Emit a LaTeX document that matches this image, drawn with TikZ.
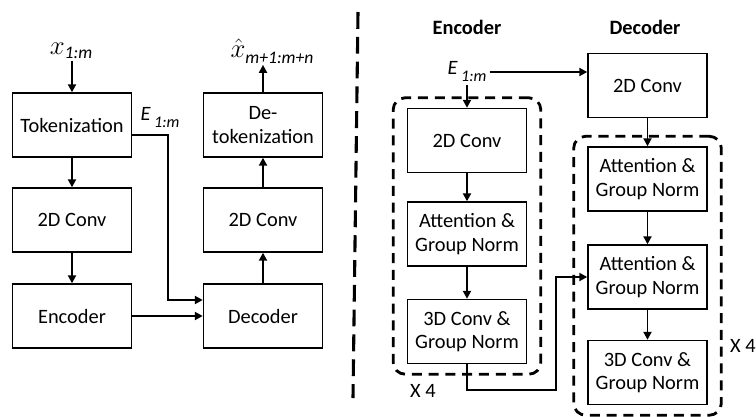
\RequirePackage{fix-cm}
\documentclass[tikz,border=0pt]{standalone}
\usepackage{fontspec}
\setmainfont{Carlito}
\usetikzlibrary{arrows.meta,calc,fit}
\newcommand{\isub}[3]{\raisebox{-#2}{\fontsize{#1}{#1}\selectfont\itshape #3}}
\tikzset{
    block/.style={rectangle, draw, line width=1pt, minimum width=2.975cm, minimum height=1.6cm, align=center, inner sep=1pt, font=\fontsize{14.5}{16.5}\selectfont},
    arr/.style={-{Triangle[length=2mm,width=2mm]}, line width=1.4pt},
    grp/.style={draw, line width=2pt, dash pattern=on 0.25cm off 0.17cm, rounded corners=0.3cm, inner xsep=0.34cm, inner ysep=0.25cm},
    lbl/.style={font=\fontsize{14.5}{16.5}\selectfont, inner sep=2pt}
}

\begin{document}
\begin{tikzpicture}[x=0.025cm, y=-0.025cm]
    \useasboundingbox (0,0) rectangle (756,416);

    % overall pipeline
    \node[block] (tok) at (72,125) {Tokenization};
    \node[block] (conv) at (72,220) {2D Conv};
    \node[block] (enc) at (72,316) {Encoder};
    \node[block] (dec) at (263,316) {Decoder};
    \node[block] (deconv) at (263,220) {2D Conv};
    \node[block] (detok) at (263,125) {De-\\tokenization};

    \node[font=\fontsize{19}{20}\selectfont, inner sep=1pt] (xin) at (71,51) {$x$\isub{12.5}{3pt}{1:m}};
    \node[font=\fontsize{19}{20}\selectfont, inner sep=1pt] (xout) at (272,51) {$\hat{x}$\isub{12.5}{4pt}{m+1:m+n}};
    \node[lbl] (elab) at (160,118) {\textit{E}\,\isub{11.5}{5pt}{1:m}};

    \draw[arr] (tok |- xin.south) -- (tok);
    \draw[arr] (tok) -- (conv);
    \draw[arr] (conv) -- (enc);
    \draw[arr] (enc) -- (dec);
    \draw[arr] (dec) -- (deconv);
    \draw[arr] (deconv) -- (detok);
    \draw[arr] (detok) -- (detok |- xout.south);
    \draw[arr] ($(tok.east)+(0,10)$) -- ++(36,0) |- ($(dec.west)+(0,-16)$);

    % separator
    \draw[line width=2.2pt, dash pattern=on 0.42cm off 0.2cm] (358,12) -- (353,398);

    % encoder / decoder detail
    \node[font=\fontsize{14.5}{16.5}\selectfont\bfseries] (enctitle) at (467,27) {Encoder};
    \node[font=\fontsize{14.5}{16.5}\selectfont\bfseries] (dectitle) at (645,27) {Decoder};
    \node[lbl] (ein) at (467,72) {\textit{E}\,\isub{11.5}{5pt}{1:m}};

    \node[block] (econv) at (467,140.5) {2D Conv};
    \node[block] (eatt) at (467,234) {Attention \&\\Group Norm};
    \node[block] (e3d) at (467,331.5) {3D Conv \&\\Group Norm};

    \node[block] (dconv) at (647.5,85.5) {2D Conv};
    \node[block] (datt) at (647.5,179) {Attention \&\\Group Norm};
    \node[block] (datt2) at (647.5,277) {Attention \&\\Group Norm};
    \node[block] (d3d) at (647.5,372.5) {3D Conv \&\\Group Norm};

    \node[grp, fit=(econv)(e3d)] (encgrp) {};
    \node[grp, fit=(datt)(d3d)] (decgrp) {};
    \node[lbl] (erep) at (423,391) {X 4};
    \node[lbl] (drep) at (743,346) {X 4};

    \draw[arr] (ein) -- (ein -| dconv.west);
    \draw[arr] (ein) -- (econv);
    \draw[arr] (econv) -- (eatt);
    \draw[arr] (eatt) -- (e3d);
    \draw[arr] (dconv) -- (datt);
    \draw[arr] (datt) -- (datt2);
    \draw[arr] (datt2) -- (d3d);
    \draw[arr] (e3d.south) -- ++(0,26) -| ($(datt2.west)+(-31,0)$) -- (datt2.west);
\end{tikzpicture}
\end{document}
